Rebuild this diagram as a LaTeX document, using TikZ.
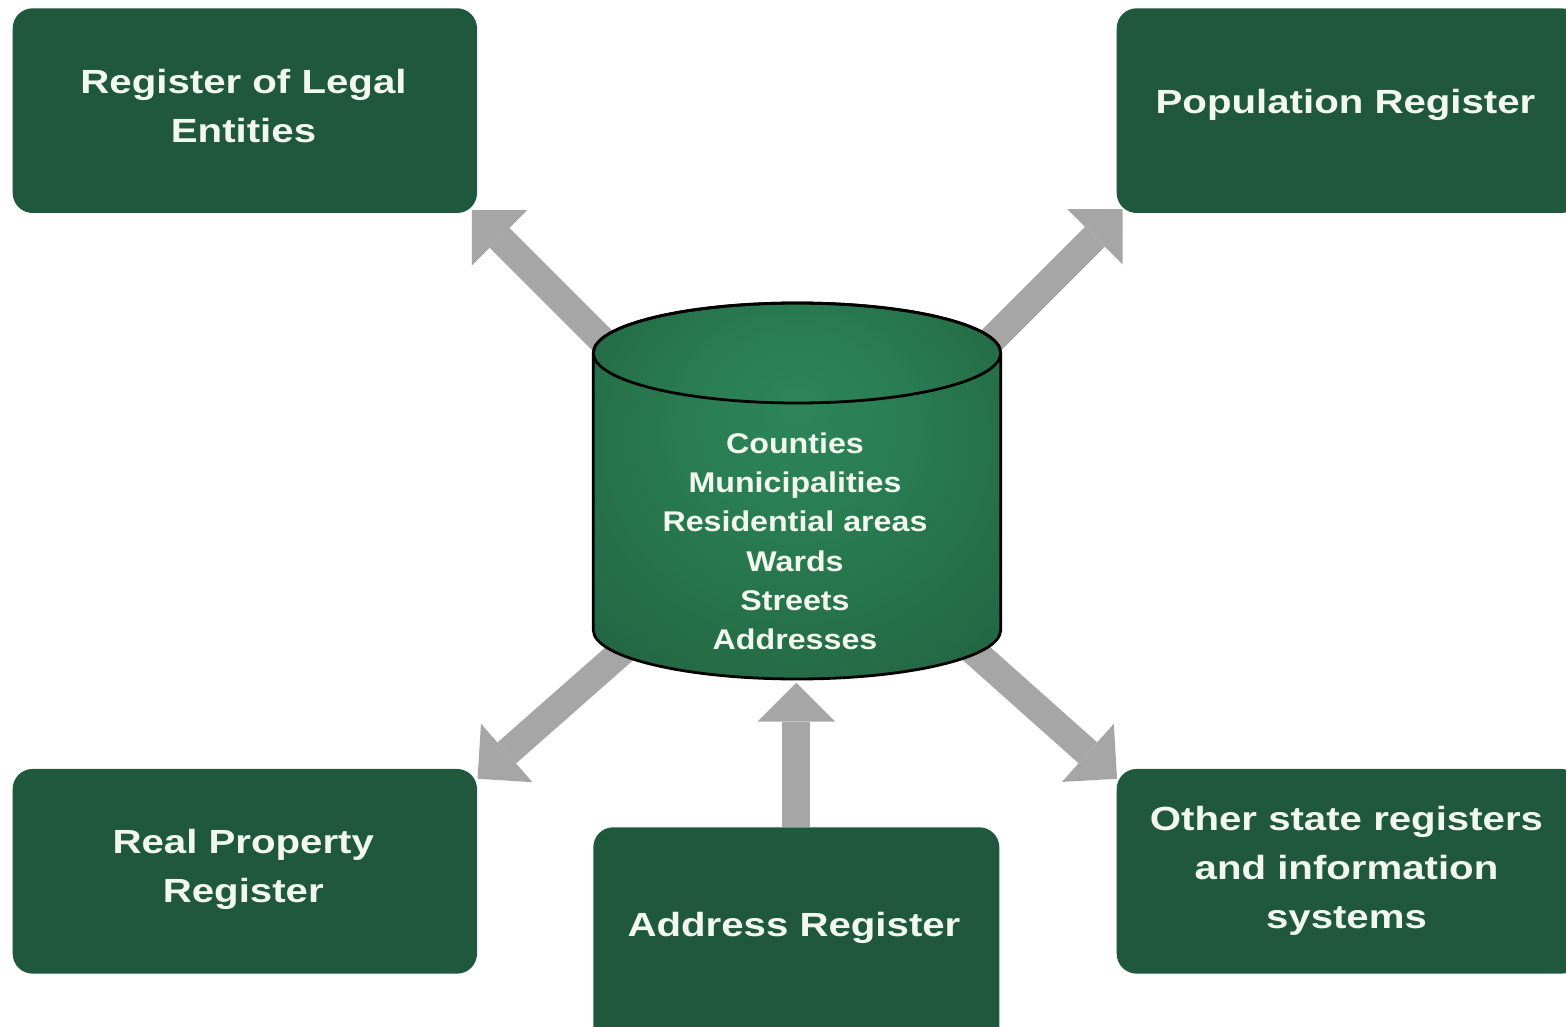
\documentclass[tikz,border=0pt]{standalone}
\usepackage{fontspec}
\newfontfamily\boxfont[FakeStretch=1.2]{Liberation Sans}
\newfontfamily\cylfont[FakeStretch=1.13]{Liberation Sans}
\usetikzlibrary{arrows.meta}
\definecolor{boxgreen}{HTML}{1F583C}
\definecolor{txtwhite}{HTML}{F2F7F0}
\definecolor{arrowgray}{HTML}{A6A6A6}
\definecolor{cylin}{HTML}{2C8558}
\definecolor{cylout}{HTML}{1E5638}
\pgfdeclareradialshading{cylshade}{\pgfpoint{0bp}{12bp}}{color(0bp)=(cylin); color(12bp)=(cylin!85!cylout); color(50bp)=(cylout)}
\begin{document}
\begin{tikzpicture}[x=1pt,y=-1pt,
  box/.style={fill=boxgreen, rounded corners=20pt, minimum width=464.3pt, minimum height=204.7pt, inner sep=0pt},
  boxtext/.style={text=txtwhite, align=center, font=\boxfont\bfseries\fontsize{33.5}{49}\selectfont, inner sep=0pt},
  cyltext/.style={text=txtwhite, align=center, font=\cylfont\bfseries\fontsize{28.5}{39.3}\selectfont, inner sep=0pt},
  bigarrow/.style={draw=arrowgray, line width=28pt, -{Triangle[width=78pt,length=39pt,line width=0pt]}},
  cyledge/.style={draw=black, line width=2.8pt, line join=round}
]
\useasboundingbox (0,0) rectangle (1566,1027);
\clip (0,0) rectangle (1566,1027);

% boxes
\node[box] (tl) at (244.85,110.65) {};
\node[box] (tr) at (1348.85,110.65) {};
\node[box] (bl) at (244.85,871.3) {};
\node[box] (br) at (1348.85,871.3) {};
\node[box, minimum width=406pt, minimum height=222.7pt] (ad) at (796.3,938.65) {};

% connector ends
\coordinate (tTL) at ([shift={(-5.3,-3)}]tl.south east);
\coordinate (tTR) at ([shift={(6,-4)}]tr.south west);
\coordinate (tBL) at ([shift={(0.3,10)}]bl.north east);
\coordinate (tBR) at ([shift={(0.5,10)}]br.north west);
\coordinate (cylbot) at (796.3,682.7);
\coordinate (sTL) at (641.7,380);
\coordinate (sTR) at (952.7,379);
\coordinate (sBL) at (627,647);
\coordinate (sBR) at (968.2,646.2);

% arrows
\draw[bigarrow] (sTL) -- (tTL);
\draw[bigarrow] (sTR) -- (tTR);
\draw[bigarrow] (sBL) -- (tBL);
\draw[bigarrow] (sBR) -- (tBR);
\draw[bigarrow] (ad.north) -- (cylbot);

% cylinder
\path[shading=cylshade] (593.3,353) arc[start angle=180,end angle=360,x radius=203.7,y radius=50]
  -- (1000.7,630) arc[start angle=0,end angle=180,x radius=203.7,y radius=49] -- cycle;
\path[cyledge] (593.3,353) arc[start angle=180,end angle=360,x radius=203.7,y radius=50]
  -- (1000.7,630) arc[start angle=0,end angle=180,x radius=203.7,y radius=49] -- cycle;
\path[cyledge] (797,353) ellipse[x radius=203.7, y radius=50];

% texts
\node[cyltext] (cylt) at (795,541.3) {Counties\\Municipalities\\Residential areas\\Wards\\Streets\\Addresses};
\node[boxtext] (tlT) at (243.5,105.6) {Register of Legal\\Entities};
\node[boxtext] (trT) at (1345.5,105.3) {Population Register};
\node[boxtext] (blT) at (243.3,869.5) {Real Property\\Register};
\node[boxtext] (brT) at (1346.5,871.2) {Other state registers\\and information\\systems};
\node[boxtext] (adT) at (794,928) {Address Register};
\end{tikzpicture}
\end{document}
